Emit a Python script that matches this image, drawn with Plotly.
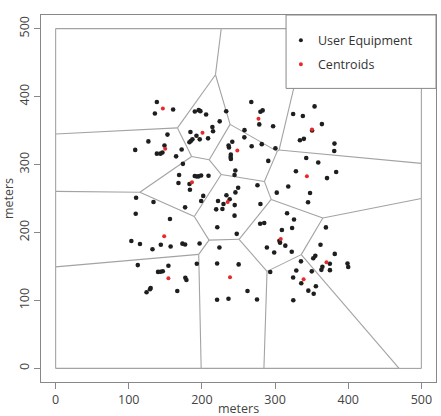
import numpy as np
import plotly.graph_objects as go

# ---- data ----
ue_x = [138.4, 135.7, 160.6,
        126.8, 152.9, 148.8, 108.8, 138.4, 143.3, 146.0, 164.7, 172.3, 174.0,
        190.3, 195.6, 197.9, 205.7, 233.2, 224.3, 214.3, 215.2, 184.3, 192.5, 197.0, 187.0, 184.8, 182.9, 208.4,
        258.2, 258.0, 241.5, 236.4, 237.0, 268.0, 281.8, 239.5, 239.2, 239.6, 245.7, 244.6,
        267.5, 280.0, 283.0, 278.4, 297.3, 300.5, 290.7,
        354.0, 338.0, 324.7, 364.0, 350.6, 334.0, 339.4, 381.2, 380.9,
        342.6, 359.0, 328.5, 383.5, 371.0, 318.0, 302.3, 347.8, 345.1,
        168.8, 190.2, 193.0, 195.5, 198.9, 209.0, 167.9, 183.0, 183.6, 201.8, 199.0, 177.0, 133.8,
        222.0, 233.5, 245.8, 249.5, 229.5, 228.0, 219.5, 244.8, 244.6, 238.0, 221.0, 247.6,
        275.9, 280.0, 279.6, 285.2, 316.4, 325.9, 323.3, 309.3, 305.9, 306.8, 314.0, 288.8, 298.8, 322.8, 293.4,
        369.5, 362.1, 381.6, 355.0, 352.2, 364.7, 363.3, 374.9, 375.0, 399.0, 400.0,
        335.4, 329.0, 350.2, 324.7, 335.8, 355.8, 345.5, 352.8, 324.9,
        223.9, 220.8, 250.2, 262.3, 236.3, 220.7, 275.3, 193.0,
        103.5, 115.3, 132.4, 143.8, 157.2, 173.3, 177.0, 196.8, 156.3, 109.5, 110.0,
        112.3, 140.0, 143.5, 146.5, 154.2, 129.9, 129.0, 124.3, 166.3, 177.3, 178.8]
ue_y = [392.0, 375.0, 381.0,
        334.0, 344.0, 328.0, 321.5, 316.0, 316.0, 317.6, 312.0, 322.0, 301.0,
        378.0, 380.0, 378.5, 373.5, 378.4, 363.5, 355.3, 349.0, 347.8, 342.3, 337.0, 337.0, 334.6, 332.8, 338.5,
        350.6, 340.0, 333.5, 328.0, 325.0, 326.8, 330.0, 314.5, 311.0, 308.3, 291.3, 284.6,
        392.0, 377.6, 379.6, 359.0, 356.2, 324.0, 305.3,
        385.5, 371.3, 374.4, 359.5, 350.0, 335.8, 337.8, 330.8, 320.0,
        309.5, 303.0, 290.0, 289.0, 280.0, 267.6, 258.6, 258.2, 244.4,
        284.6, 283.0, 282.3, 282.6, 283.8, 283.5, 272.8, 271.3, 262.8, 253.8, 246.3, 237.0, 244.8,
        246.3, 254.7, 259.0, 265.8, 242.0, 234.5, 234.0, 240.3, 224.8, 249.0, 207.8, 198.0,
        269.4, 242.0, 212.8, 214.0, 228.2, 219.0, 206.5, 203.6, 187.7, 184.8, 180.6, 178.0, 170.6, 171.6, 141.8,
        207.5, 182.0, 168.5, 165.6, 162.0, 149.4, 145.0, 153.9, 144.6, 154.3, 149.3,
        157.5, 144.0, 142.8, 133.8, 125.3, 120.8, 114.4, 109.8, 100.2,
        178.0, 154.4, 153.0, 113.8, 102.5, 101.0, 101.4, 154.0,
        187.5, 183.0, 175.4, 182.0, 179.4, 183.6, 182.4, 183.8, 219.8, 227.5, 251.0,
        152.0, 142.0, 142.2, 143.0, 151.0, 118.3, 116.5, 112.0, 114.0, 133.5, 130.0]

cen_x = [146.6, 149.8, 200.8, 248.4, 277.3, 350.4, 343.5, 186.4, 235.2, 307.8, 370.3, 339.0, 238.4, 154.2, 148.4]
cen_y = [382.6, 323.2, 346.6, 320.6, 367.5, 351.4, 282.9, 273.8, 244.8, 190.5, 156.3, 131.3, 134.3, 132.6, 194.6]

area = [0.0, 500.0]            # side of the square area (meters)
tick_vals = [0, 100, 200, 300, 400, 500]
legend_labels = ["User Equipment", "Centroids"]
axis_label = "meters"

# ---- Voronoi cells of the centroids, clipped to the square ----
def clip(poly, d, c):
    out = []
    n = len(poly)
    for k in range(n):
        p, q = poly[k], poly[(k + 1) % n]
        fp, fq = p @ d - c, q @ d - c
        if fp <= 0:
            out.append(p)
        if fp * fq < 0:
            t = fp / (fp - fq)
            out.append(p + t * (q - p))
    return out

C = np.column_stack([cen_x, cen_y])
lo, hi = area
edges = {}
for i in range(len(C)):
    poly = [np.array(v) for v in [(lo, lo), (hi, lo), (hi, hi), (lo, hi)]]
    for j in range(len(C)):
        if i == j:
            continue
        d = C[j] - C[i]
        m = (C[i] + C[j]) / 2
        poly = clip(poly, d, m @ d)
        if not poly:
            break
    for k in range(len(poly)):
        a, b = poly[k], poly[(k + 1) % len(poly)]
        if np.hypot(*(a - b)) < 1e-6:
            continue
        key = tuple(sorted([tuple(np.round(a, 3)), tuple(np.round(b, 3))]))
        edges[key] = (a, b)

vx, vy = [], []
for a, b in edges.values():
    vx += [a[0], b[0], None]
    vy += [a[1], b[1], None]

fig = go.Figure()
fig.add_trace(go.Scatter(x=vx, y=vy, mode="lines", line=dict(color="#a3a3a3", width=1.1),
                         hoverinfo="skip", showlegend=False))
fig.add_trace(go.Scatter(x=ue_x, y=ue_y, mode="markers", name=legend_labels[0],
                         marker=dict(color="#1e1e1e", size=4.6), showlegend=False))
fig.add_trace(go.Scatter(x=cen_x, y=cen_y, mode="markers", name=legend_labels[1],
                         marker=dict(color="#e8282b", size=4), showlegend=False))

font = dict(family="Open Sans, sans-serif", size=12.5, color="#444")
axis_common = dict(range=[-20, 520], tickvals=tick_vals, ticks="outside", ticklen=6,
                   tickcolor="#888", showline=True, mirror=True, linecolor="#888", linewidth=1,
                   showgrid=False, zeroline=False, tickfont=font, automargin=False)

# manual R-style legend box
shapes = [dict(type="rect", xref="x", yref="y", x0=315, x1=520, y0=412, y1=520,
               fillcolor="white", line=dict(color="#888", width=1), layer="above")]
annotations = []
for lab, col, yy in [(legend_labels[0], "#1e1e1e", 482.8), (legend_labels[1], "#e8282b", 447.5)]:
    shapes.append(dict(type="circle", xref="x", yref="y", xsizemode="pixel", ysizemode="pixel",
                       xanchor=335.3, yanchor=yy, x0=-2, x1=2, y0=-2, y1=2,
                       fillcolor=col, line=dict(width=0), layer="above"))
    annotations.append(dict(x=355.5, y=yy, xref="x", yref="y", text=lab, showarrow=False,
                            xanchor="left", yanchor="middle", font=dict(family="Open Sans, sans-serif",
                                                                        size=12.5, color="#333")))
# x axis title, placed low like the reference but kept fully inside the page
annotations.append(dict(x=0.5, y=0, xref="paper", yref="paper", text=axis_label, showarrow=False,
                        xanchor="center", yanchor="middle", yshift=-26, font=font))

fig.update_layout(
    width=441, height=416,
    margin=dict(l=41, r=5, t=15, b=34),
    paper_bgcolor="white", plot_bgcolor="white",
    xaxis=axis_common,
    yaxis=dict(axis_common, tickangle=-90, title=dict(text=axis_label, font=font, standoff=4)),
    shapes=shapes, annotations=annotations,
    showlegend=False,
)
fig.write_html("out.html")
